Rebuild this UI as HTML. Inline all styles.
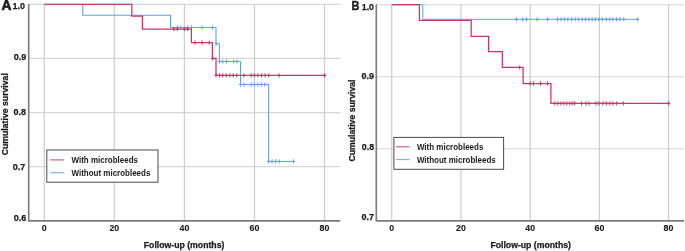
<!DOCTYPE html>
<html><head><meta charset="utf-8"><style>
html,body{margin:0;padding:0;background:#fff;width:685px;height:251px;overflow:hidden}
svg{display:block;font-family:"Liberation Sans",sans-serif;filter:blur(0.45px)}
</style></head><body>
<svg width="685" height="251" viewBox="0 0 685 251">
<rect width="685" height="251" fill="#fff"/>
<path d="M28.7,4.4H340.3M28.7,58.4H340.3M28.7,112.6H340.3M28.7,166.6H340.3" stroke="#d6d6d6" stroke-width="1.15" fill="none"/><path d="M44.3,4.4V220.9M114.3,4.4V220.9M184.4,4.4V220.9M254.5,4.4V220.9M324.5,4.4V220.9" stroke="#cfcfcf" stroke-width="1.3" fill="none"/><path d="M376.3,4.7H684M376.3,76.7H684M376.3,148.7H684" stroke="#d6d6d6" stroke-width="1.15" fill="none"/><path d="M391.7,4.7V220.9M460.9,4.7V220.9M530.2,4.7V220.9M599.4,4.7V220.9M668.5,4.7V220.9" stroke="#cfcfcf" stroke-width="1.3" fill="none"/><rect x="46.8" y="150.0" width="111.2" height="32.2" fill="#fff" stroke="#4a4a4a" stroke-width="1"/><path d="M50.2,159.9H64.2" stroke="#cc3461" stroke-width="1.1" opacity="0.85"/><path d="M50.2,172.70000000000002H64.2" stroke="#62a0e6" stroke-width="1.1" opacity="0.85"/><text transform="translate(71.5,163.3) scale(1,1.1)" font-size="8.0" font-weight="bold" fill="#1a1a1a">With microbleeds</text><text transform="translate(71.5,175.60000000000002) scale(1,1.1)" font-size="8.0" font-weight="bold" fill="#1a1a1a">Without microbleeds</text><rect x="393.9" y="137.4" width="109.7" height="31.9" fill="#fff" stroke="#4a4a4a" stroke-width="1"/><path d="M396,146.8H409.6" stroke="#cc3461" stroke-width="1.1" opacity="0.85"/><path d="M396,159.6H409.6" stroke="#62a0e6" stroke-width="1.1" opacity="0.85"/><text transform="translate(416.9,149.9) scale(1,1.1)" font-size="8.0" font-weight="bold" fill="#1a1a1a">With microbleeds</text><text transform="translate(416.9,162.79999999999998) scale(1,1.1)" font-size="8.0" font-weight="bold" fill="#1a1a1a">Without microbleeds</text><path d="M28.7,4.0V220.9H340.3" stroke="#7b7b7b" stroke-width="1.6" fill="none"/><path d="M376.3,4.3V220.9H684" stroke="#7b7b7b" stroke-width="1.6" fill="none"/><path d="M44.3,4.4H82.8V15.2H170.5V27.5H216.0V43.7H219.4V61.5H240.5V84.5H268.6V161.4H294.6" stroke="#62a0e6" stroke-width="1.05" fill="none"/><path d="M177.5,25.4V29.6M176.0,27.5H179.0M180.8,25.4V29.6M179.3,27.5H182.3M187.7,25.4V29.6M186.2,27.5H189.2M191.4,25.4V29.6M189.9,27.5H192.9M202.0,25.4V29.6M200.5,27.5H203.5M212.4,25.4V29.6M210.9,27.5H213.9M216.1,41.6V45.8M214.6,43.7H217.6M219.4,59.4V63.6M217.9,61.5H220.9M222.8,59.4V63.6M221.3,61.5H224.3M226.4,59.4V63.6M224.9,61.5H227.9M233.6,59.4V63.6M232.1,61.5H235.1M237.0,59.4V63.6M235.5,61.5H238.5M240.5,82.4V86.6M239.0,84.5H242.0M244.0,82.4V86.6M242.5,84.5H245.5M251.2,82.4V86.6M249.7,84.5H252.7M254.3,82.4V86.6M252.8,84.5H255.8M257.9,82.4V86.6M256.4,84.5H259.4M261.4,82.4V86.6M259.9,84.5H262.9M264.8,82.4V86.6M263.3,84.5H266.3M268.6,159.3V163.5M267.1,161.4H270.1M272.0,159.3V163.5M270.5,161.4H273.5M275.6,159.3V163.5M274.1,161.4H277.1M279.2,159.3V163.5M277.7,161.4H280.7M293.4,159.3V163.5M291.9,161.4H294.9" stroke="#62a0e6" stroke-width="1.0" fill="none"/><path d="M44.3,4.4H131.8V16.1H142.4V29.0H191.4V42.6H212.4V58.4H216.0V75.4H326.0" stroke="#cc3461" stroke-width="1.25" fill="none"/><path d="M173.8,26.9V31.1M172.3,29.0H175.3M177.4,26.9V31.1M175.9,29.0H178.9M184.4,26.9V31.1M182.9,29.0H185.9M187.7,26.9V31.1M186.2,29.0H189.2M195.0,40.5V44.7M193.5,42.6H196.5M202.0,40.5V44.7M200.5,42.6H203.5M209.2,40.5V44.7M207.7,42.6H210.7M212.6,56.3V60.5M211.1,58.4H214.1M216.0,73.3V77.5M214.5,75.4H217.5M219.5,73.3V77.5M218.0,75.4H221.0M222.8,73.3V77.5M221.3,75.4H224.3M226.3,73.3V77.5M224.8,75.4H227.8M229.9,73.3V77.5M228.4,75.4H231.4M233.2,73.3V77.5M231.7,75.4H234.7M236.8,73.3V77.5M235.3,75.4H238.3M243.9,73.3V77.5M242.4,75.4H245.4M251.1,73.3V77.5M249.6,75.4H252.6M254.3,73.3V77.5M252.8,75.4H255.8M257.9,73.3V77.5M256.4,75.4H259.4M261.5,73.3V77.5M260.0,75.4H263.0M265.1,73.3V77.5M263.6,75.4H266.6M268.7,73.3V77.5M267.2,75.4H270.2M279.0,73.3V77.5M277.5,75.4H280.5M324.6,73.3V77.5M323.1,75.4H326.1" stroke="#cc3461" stroke-width="1.0" fill="none"/><path d="M391.7,4.7H422.8V19.3H638.8" stroke="#62a0e6" stroke-width="1.0" fill="none"/><path d="M516.4,17.2V21.4M514.9,19.3H517.9M522.8,17.2V21.4M521.3,19.3H524.3M526.5,17.2V21.4M525.0,19.3H528.0M537.2,17.2V21.4M535.7,19.3H538.7M547.6,17.2V21.4M546.1,19.3H549.1M557.4,17.2V21.4M555.9,19.3H558.9M561.1,17.2V21.4M559.6,19.3H562.6M564.4,17.2V21.4M562.9,19.3H565.9M567.9,17.2V21.4M566.4,19.3H569.4M571.6,17.2V21.4M570.1,19.3H573.1M575.2,17.2V21.4M573.7,19.3H576.7M578.4,17.2V21.4M576.9,19.3H579.9M582.1,17.2V21.4M580.6,19.3H583.6M585.5,17.2V21.4M584.0,19.3H587.0M588.9,17.2V21.4M587.4,19.3H590.4M592.2,17.2V21.4M590.7,19.3H593.7M595.5,17.2V21.4M594.0,19.3H597.0M598.8,17.2V21.4M597.3,19.3H600.3M602.3,17.2V21.4M600.8,19.3H603.8M606.3,17.2V21.4M604.8,19.3H607.8M609.7,17.2V21.4M608.2,19.3H611.2M612.9,17.2V21.4M611.4,19.3H614.4M616.5,17.2V21.4M615.0,19.3H618.0M619.8,17.2V21.4M618.3,19.3H621.3M623.8,17.2V21.4M622.3,19.3H625.3M637.6,17.2V21.4M636.1,19.3H639.1" stroke="#62a0e6" stroke-width="1.0" fill="none"/><path d="M391.7,4.7H419.4V20.4H471.2V36.3H488.6V51.6H502.3V67.4H523.1V83.5H550.9V103.4H669.6" stroke="#cc3461" stroke-width="1.25" fill="none"/><path d="M519.7,65.3V69.5M518.2,67.4H521.2M530.0,81.4V85.6M528.5,83.5H531.5M533.3,81.4V85.6M531.8,83.5H534.8M540.5,81.4V85.6M539.0,83.5H542.0M547.5,81.4V85.6M546.0,83.5H549.0M554.9,101.3V105.5M553.4,103.4H556.4M557.9,101.3V105.5M556.4,103.4H559.4M560.9,101.3V105.5M559.4,103.4H562.4M563.8,101.3V105.5M562.3,103.4H565.3M566.8,101.3V105.5M565.3,103.4H568.3M569.8,101.3V105.5M568.3,103.4H571.3M572.2,101.3V105.5M570.7,103.4H573.7M574.8,101.3V105.5M573.3,103.4H576.3M581.6,101.3V105.5M580.1,103.4H583.1M586.0,101.3V105.5M584.5,103.4H587.5M589.0,101.3V105.5M587.5,103.4H590.5M595.9,101.3V105.5M594.4,103.4H597.4M598.9,101.3V105.5M597.4,103.4H600.4M602.9,101.3V105.5M601.4,103.4H604.4M606.3,101.3V105.5M604.8,103.4H607.8M609.9,101.3V105.5M608.4,103.4H611.4M612.9,101.3V105.5M611.4,103.4H614.4M616.8,101.3V105.5M615.3,103.4H618.3M623.4,101.3V105.5M621.9,103.4H624.9M668.7,101.3V105.5M667.2,103.4H670.2" stroke="#cc3461" stroke-width="1.0" fill="none"/><text x="1.4" y="10.2" font-size="13.8" font-weight="bold" fill="#1a1a1a" text-anchor="start" stroke="#1a1a1a" stroke-width="0.6">A</text><text x="0" y="0" font-size="13.2" font-weight="bold" fill="#1a1a1a" text-anchor="start" transform="translate(351.5,9.9) scale(0.84,1)" stroke="#1a1a1a" stroke-width="0.35">B</text><text x="24.9" y="8.8" font-size="9" font-weight="bold" fill="#1a1a1a" text-anchor="end"  stroke="#1a1a1a" stroke-width="0.25">1.0</text><text x="26.3" y="60.4" font-size="9" font-weight="bold" fill="#1a1a1a" text-anchor="end"  stroke="#1a1a1a" stroke-width="0.25">0.9</text><text x="26.1" y="115.2" font-size="9" font-weight="bold" fill="#1a1a1a" text-anchor="end"  stroke="#1a1a1a" stroke-width="0.25">0.8</text><text x="25.2" y="169.6" font-size="9" font-weight="bold" fill="#1a1a1a" text-anchor="end"  stroke="#1a1a1a" stroke-width="0.25">0.7</text><text x="26.3" y="221.2" font-size="9" font-weight="bold" fill="#1a1a1a" text-anchor="end"  stroke="#1a1a1a" stroke-width="0.25">0.6</text><text x="374.0" y="9.6" font-size="8.8" font-weight="bold" fill="#1a1a1a" text-anchor="end"  stroke="#1a1a1a" stroke-width="0.25">1.0</text><text x="374.0" y="79.1" font-size="9" font-weight="bold" fill="#1a1a1a" text-anchor="end"  stroke="#1a1a1a" stroke-width="0.25">0.9</text><text x="374.1" y="150.3" font-size="8.8" font-weight="bold" fill="#1a1a1a" text-anchor="end"  stroke="#1a1a1a" stroke-width="0.25">0.8</text><text x="373.9" y="220.4" font-size="9" font-weight="bold" fill="#1a1a1a" text-anchor="end"  stroke="#1a1a1a" stroke-width="0.25">0.7</text><text x="44.3" y="231.3" font-size="8.8" font-weight="bold" fill="#1a1a1a" text-anchor="middle"  stroke="#1a1a1a" stroke-width="0.12">0</text><text x="114.3" y="231.3" font-size="8.8" font-weight="bold" fill="#1a1a1a" text-anchor="middle"  stroke="#1a1a1a" stroke-width="0.12">20</text><text x="184.4" y="231.3" font-size="8.8" font-weight="bold" fill="#1a1a1a" text-anchor="middle"  stroke="#1a1a1a" stroke-width="0.12">40</text><text x="254.5" y="231.3" font-size="8.8" font-weight="bold" fill="#1a1a1a" text-anchor="middle"  stroke="#1a1a1a" stroke-width="0.12">60</text><text x="324.5" y="231.3" font-size="8.8" font-weight="bold" fill="#1a1a1a" text-anchor="middle"  stroke="#1a1a1a" stroke-width="0.12">80</text><text x="391.7" y="231.3" font-size="8.8" font-weight="bold" fill="#1a1a1a" text-anchor="middle"  stroke="#1a1a1a" stroke-width="0.12">0</text><text x="460.9" y="231.3" font-size="8.8" font-weight="bold" fill="#1a1a1a" text-anchor="middle"  stroke="#1a1a1a" stroke-width="0.12">20</text><text x="530.2" y="231.3" font-size="8.8" font-weight="bold" fill="#1a1a1a" text-anchor="middle"  stroke="#1a1a1a" stroke-width="0.12">40</text><text x="599.4" y="231.3" font-size="8.8" font-weight="bold" fill="#1a1a1a" text-anchor="middle"  stroke="#1a1a1a" stroke-width="0.12">60</text><text x="668.5" y="231.3" font-size="8.8" font-weight="bold" fill="#1a1a1a" text-anchor="middle"  stroke="#1a1a1a" stroke-width="0.12">80</text><text x="184.1" y="248.3" font-size="8.7" font-weight="bold" fill="#1a1a1a" text-anchor="middle"  stroke="#1a1a1a" stroke-width="0.25">Follow-up (months)</text><text x="530.7" y="248.3" font-size="8.7" font-weight="bold" fill="#1a1a1a" text-anchor="middle"  stroke="#1a1a1a" stroke-width="0.25">Follow-up (months)</text><text x="0" y="0" font-size="8.7" font-weight="bold" fill="#1a1a1a" text-anchor="middle" transform="translate(8.0,114.2) rotate(-90)" stroke="#1a1a1a" stroke-width="0.25">Cumulative survival</text><text x="0" y="0" font-size="8.7" font-weight="bold" fill="#1a1a1a" text-anchor="middle" transform="translate(355.0,120.5) rotate(-90)" stroke="#1a1a1a" stroke-width="0.25">Cumulative survival</text>
</svg>
</body></html>
